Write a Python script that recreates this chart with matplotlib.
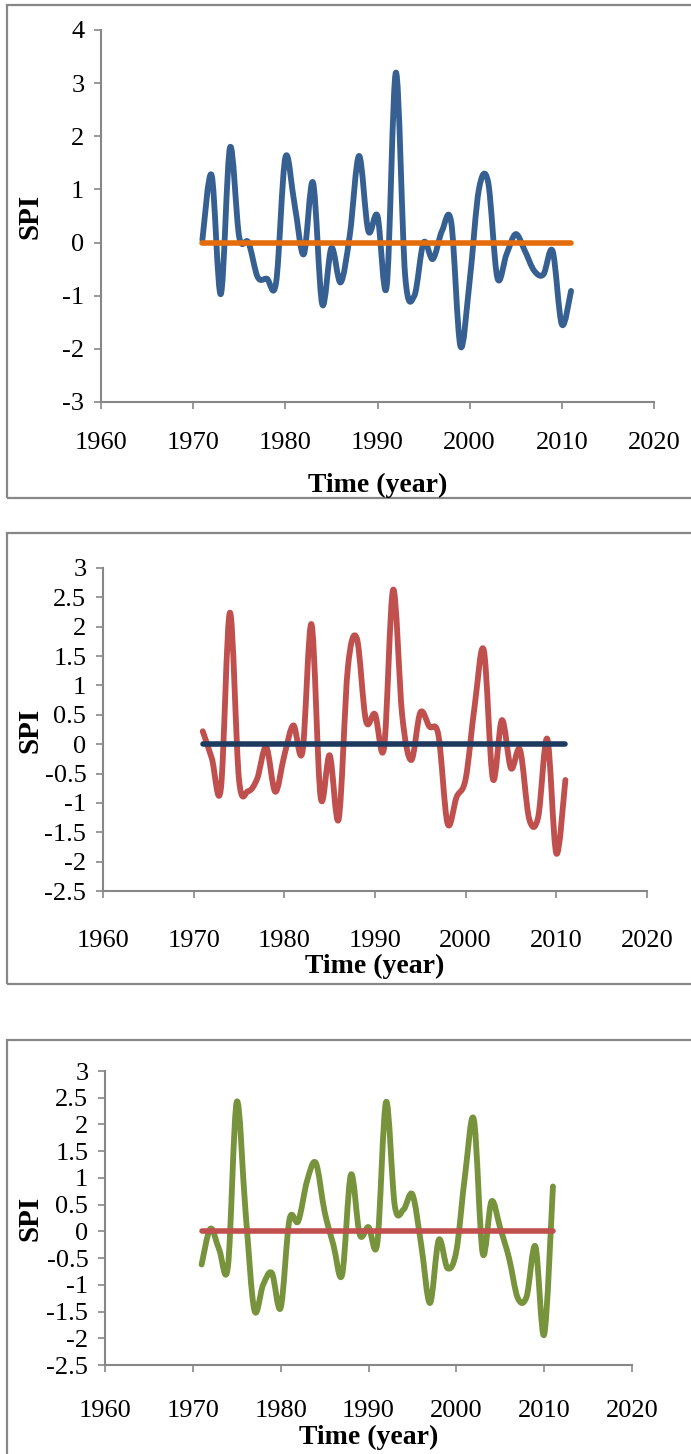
import numpy as np
import matplotlib
matplotlib.use("Agg")
import matplotlib.pyplot as plt
from matplotlib.path import Path
from matplotlib.patches import PathPatch, Rectangle
from matplotlib.ticker import FuncFormatter, MultipleLocator

plt.rcParams['font.family'] = ['Liberation Serif', 'DejaVu Serif']

# ------------------ DATA -----------------------------------------
years = np.arange(1971, 2012)

spi_a = [0.05, 1.27, -0.97, 1.79, 0.1, 0.0, -0.65, -0.68, -0.75, 1.6,
         0.72, -0.22, 1.13, -1.16, -0.1, -0.75, 0.15, 1.63, 0.22, 0.5,
         -0.82, 3.2, -0.62, -1.0, 0.0, -0.31, 0.22, 0.38, -1.95, -0.72,
         1.0, 1.14, -0.66, -0.22, 0.16, -0.16, -0.53, -0.6, -0.16, -1.54,
         -0.91]

spi_b = [0.22, -0.24, -0.76, 2.24, -0.6, -0.8, -0.59, -0.05, -0.81, -0.19,
         0.32, -0.13, 2.04, -0.9, -0.19, -1.27, 1.29, 1.8, 0.4, 0.51,
         -0.06, 2.63, 0.49, -0.27, 0.54, 0.3, 0.15, -1.35, -0.9, -0.59,
         0.66, 1.6, -0.59, 0.41, -0.41, -0.1, -1.27, -1.24, 0.09, -1.86,
         -0.61]

spi_c = [-0.62, 0.05, -0.34, -0.65, 2.42, 0.37, -1.47, -1.0, -0.78, -1.43,
         0.22, 0.19, 0.94, 1.28, 0.37, -0.25, -0.81, 1.06, -0.06, 0.08,
         -0.22, 2.42, 0.47, 0.41, 0.69, -0.25, -1.34, -0.16, -0.69, -0.37,
         1.06, 2.09, -0.41, 0.56, 0.06, -0.5, -1.25, -1.22, -0.28, -1.93,
         0.84]

baseline = np.zeros(len(years))   # mean SPI
# -----------------------------------------------------------------

W, H = 691, 1454
fig = plt.figure(figsize=(W / 100, H / 100), dpi=100)
GREY = '#878787'
FS = 19


def smooth_path(x, y):
    # excel style smoothed line (bezier through every point)
    pts = np.column_stack([x, y]).astype(float)
    n = len(pts)
    verts = [pts[0]]
    codes = [Path.MOVETO]
    for i in range(n - 1):
        p0 = pts[i - 1] if i > 0 else pts[i]
        p1 = pts[i]
        p2 = pts[i + 1]
        p3 = pts[i + 2] if i + 2 < n else pts[i + 1]
        verts += [p1 + (p2 - p0) / 6, p2 - (p3 - p1) / 6, p2]
        codes += [Path.CURVE4] * 3
    return Path(verts, codes)


def fmt(v, pos):
    return '%g' % round(v, 2)


def panel(box, axbox, series, col, basecol, ylim, ystep, spi_y, tick_y, lab_y):
    # grey frame round the chart
    bx0, by0, bx1, by1 = box
    fig.add_artist(Rectangle((bx0 / W, 1 - by1 / H), (bx1 - bx0) / W, (by1 - by0) / H,
                             transform=fig.transFigure, fill=False,
                             edgecolor=GREY, lw=1.6))
    l, t, r, b = axbox
    ax = fig.add_axes([l / W, 1 - b / H, (r - l) / W, (b - t) / H])
    ax.add_patch(PathPatch(smooth_path(years, series), fill=False, edgecolor=col,
                           lw=4.2, capstyle='round', joinstyle='round'))
    ax.plot(years, baseline, color=basecol, lw=4, solid_capstyle='round')
    ax.set_xlim(1960, 2020)
    ax.set_ylim(*ylim)
    ax.xaxis.set_major_locator(MultipleLocator(10))
    ax.yaxis.set_major_locator(MultipleLocator(ystep))
    ax.yaxis.set_major_formatter(FuncFormatter(fmt))
    for s in ['top', 'right']:
        ax.spines[s].set_visible(False)
    for s in ['left', 'bottom']:
        ax.spines[s].set_color(GREY)
        ax.spines[s].set_linewidth(1.5)
    xpad = (tick_y - b - 5 - 10) * 0.72
    ax.tick_params(axis='x', colors=GREY, length=5, width=1.2, labelsize=FS,
                   labelcolor='black', pad=xpad)
    ax.tick_params(axis='y', colors=GREY, length=5, width=1.2, labelsize=FS,
                   labelcolor='black', pad=7)
    fig.text(30 / W, 1 - spi_y / H, 'SPI', rotation=90, ha='center', va='center',
             fontsize=21, fontweight='bold')
    fig.text(((l + r) / 2) / W, 1 - lab_y / H, 'Time (year)', ha='center',
             va='center', fontsize=20, fontweight='bold')
    return ax


panel((7, 5, 720, 498), (101, 30, 654, 402), spi_a, '#376092', '#E46C0A',
      (-3, 4), 1, 216, 440, 485)
panel((7, 533, 720, 984), (103, 568, 647, 891), spi_b, '#C0504D', '#1F3A5F',
      (-2.5, 3), 0.5, 730, 938, 966)
panel((7, 1040, 720, 1470), (105, 1071, 632, 1365), spi_c, '#77933C', '#C0504D',
      (-2.5, 3), 0.5, 1218, 1408, 1437)

plt.savefig('out.png', dpi=100)
